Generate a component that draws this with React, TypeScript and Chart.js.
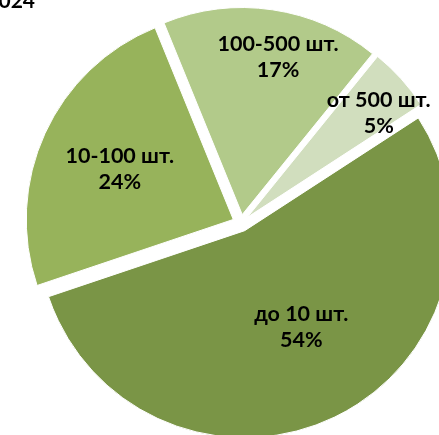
import { useEffect, useRef } from "react";
import { Chart, registerables } from "chart.js";

Chart.register(...registerables);

// ---- data ----
const categories = ["до 10 шт.", "10-100 шт.", "100-500 шт.", "от 500 шт."];
const shares = [54, 24, 17, 5];
const titleText = "Структура заказов по объёму партии, 2024";

// ---- style ----
const sliceColors = ["#7A9546", "#97B35B", "#B2CA8A", "#D1DEBE"];
const labelRadius = [0.54, 0.6, 0.78, 0.81];
const labelAngleShift = [-4.6, -0.6, 4.4, 3.6];
const EXPLODE = 8.5;
const FONT = "Lato, 'Open Sans', 'DejaVu Sans', sans-serif";

const explodePlugin = {
  id: "explodeSlices",
  afterDatasetUpdate(chart: any, args: any) {
    const meta = chart.getDatasetMeta(args.index);
    meta.data.forEach((arc: any) => {
      const mid = (arc.startAngle + arc.endAngle) / 2;
      arc.x += Math.cos(mid) * EXPLODE;
      arc.y += Math.sin(mid) * EXPLODE;
    });
  },
};

const labelPlugin = {
  id: "sliceLabels",
  afterDatasetsDraw(chart: any) {
    const ctx = chart.ctx as CanvasRenderingContext2D;
    const meta = chart.getDatasetMeta(0);
    const total = shares.reduce((a, b) => a + b, 0);
    ctx.save();
    ctx.fillStyle = "#000000";
    ctx.font = `bold 21.5px ${FONT}`;
    ctx.textAlign = "center";
    ctx.textBaseline = "middle";
    meta.data.forEach((arc: any, i: number) => {
      const { x, y, startAngle, endAngle, outerRadius } = arc;
      const a = (startAngle + endAngle) / 2 + (labelAngleShift[i] * Math.PI) / 180;
      const r = outerRadius * labelRadius[i];
      const cx = x + Math.cos(a) * r;
      const cy = y + Math.sin(a) * r;
      const pct = Math.round((shares[i] / total) * 100) + "%";
      ctx.fillText(categories[i], cx, cy - 13);
      ctx.fillText(pct, cx, cy + 13);
    });
    ctx.textAlign = "right";
    ctx.textBaseline = "alphabetic";
    ctx.font = `bold 21px ${FONT}`;
    ctx.fillText(titleText, 35, 8);
    ctx.restore();
  },
};

export default function App() {
  const ref = useRef<HTMLCanvasElement | null>(null);

  useEffect(() => {
    if (!ref.current) return;
    const chart = new Chart(ref.current, {
      type: "pie",
      data: {
        labels: categories,
        datasets: [
          {
            data: shares,
            backgroundColor: sliceColors,
            borderColor: "#ffffff",
            borderWidth: 1,
            radius: 207,
          } as any,
        ],
      },
      options: {
        responsive: false,
        animation: false,
        events: [],
        rotation: 57,
        layout: { padding: 0 },
        plugins: {
          legend: { display: false },
          tooltip: { enabled: false },
          title: { display: false },
        },
      },
      plugins: [explodePlugin, labelPlugin],
    });
    return () => chart.destroy();
  }, []);

  return (
    <div
      style={{
        position: "absolute",
        left: 0,
        top: 0,
        width: 439,
        height: 435,
        overflow: "hidden",
        background: "#ffffff",
      }}
    >
      <canvas ref={ref} width={482} height={446} style={{ display: "block", width: 482, height: 446 }} />
    </div>
  );
}
